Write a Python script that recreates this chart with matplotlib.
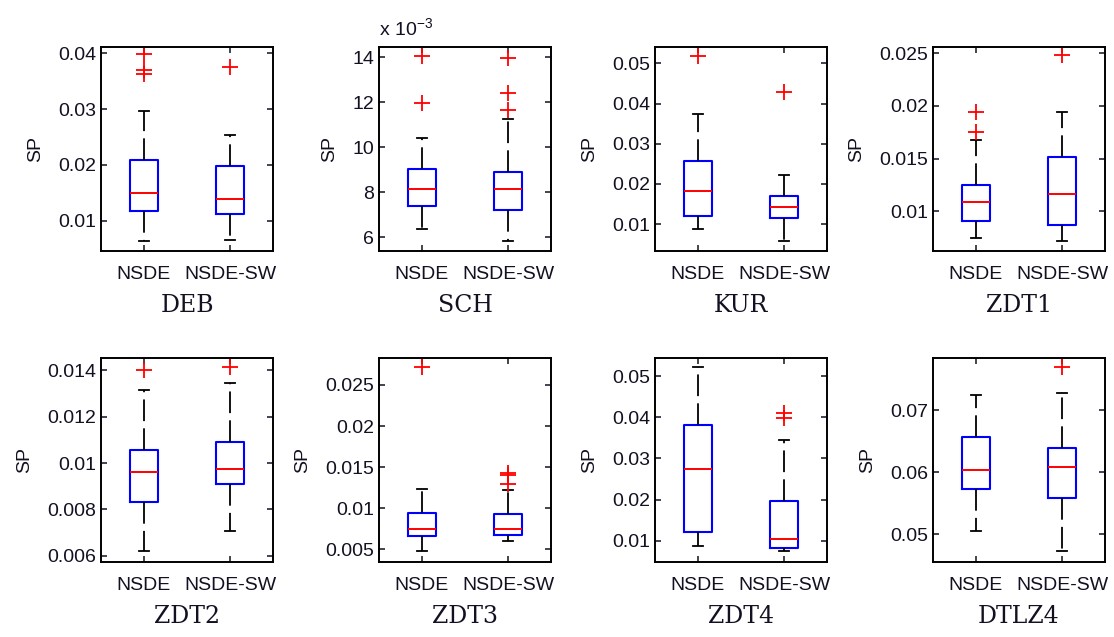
# -*- coding: utf-8 -*-

"""Box plots of the SP metric for NSDE and NSDE-SW on eight test problems."""

import matplotlib
matplotlib.use('Agg')
import matplotlib.pyplot as plt
import matplotlib.ticker as ticker

ALGORITHMS = ['NSDE', 'NSDE-SW']
PROBLEMS = ['DEB', 'SCH', 'KUR', 'ZDT1', 'ZDT2', 'ZDT3', 'ZDT4', 'DTLZ4']

# per problem: [NSDE, NSDE-SW]  (SCH values are in units of 1e-3)
WHISKER_LOW = [[0.0064, 0.0066], [6.36, 5.85], [0.0087, 0.0058], [0.00745, 0.00717],
               [0.00623, 0.00709], [0.00483, 0.0060], [0.00871, 0.00757], [0.0505, 0.0473]]
Q1 = [[0.0118, 0.0112], [7.42, 7.20], [0.0119, 0.0116], [0.00911, 0.00873],
      [0.00831, 0.00911], [0.00662, 0.00678], [0.0120, 0.00823], [0.0573, 0.0559]]
MEDIAN = [[0.0149, 0.0139], [8.17, 8.17], [0.0183, 0.0142], [0.01086, 0.01163],
          [0.00963, 0.00976], [0.00743, 0.00743], [0.0274, 0.0104], [0.0603, 0.0609]]
Q3 = [[0.0209, 0.0198], [9.05, 8.90], [0.0256, 0.0171], [0.0125, 0.0152],
      [0.01058, 0.01091], [0.00938, 0.00934], [0.0380, 0.0197], [0.0657, 0.0639]]
WHISKER_HIGH = [[0.0297, 0.0254], [10.44, 11.28], [0.0374, 0.0222], [0.0168, 0.0194],
                [0.01316, 0.01346], [0.01234, 0.01223], [0.0522, 0.0344], [0.0724, 0.0728]]
OUTLIERS = [
    [[0.0398, 0.0370, 0.0363], [0.0375]],
    [[14.07, 11.99], [13.96, 12.42, 11.65]],
    [[0.0519], [0.0428]],
    [[0.0194, 0.0175], [0.0248]],
    [[0.0140], [0.01415]],
    [[0.02724], [0.01426, 0.01401, 0.01292]],
    [[], [0.0410, 0.0397]],
    [[], [0.0770]],
]
Y_LIMITS = [(0.0046, 0.0411), (5.40, 14.46), (0.0033, 0.0541), (0.00623, 0.0256),
            (0.00574, 0.01452), (0.00346, 0.02828), (0.00483, 0.0544), (0.04555, 0.0784)]
Y_TICKS = [[0.01, 0.02, 0.03, 0.04], [6, 8, 10, 12, 14], [0.01, 0.02, 0.03, 0.04, 0.05],
           [0.01, 0.015, 0.02, 0.025], [0.006, 0.008, 0.01, 0.012, 0.014],
           [0.005, 0.01, 0.015, 0.02, 0.025], [0.01, 0.02, 0.03, 0.04, 0.05], [0.05, 0.06, 0.07]]

FIG_W, FIG_H = 1114, 637
AX_LEFTS = [101, 379, 655, 933]
AX_TOPS = [47, 358]
AX_W, AX_H = 172, 204

plt.rcParams['font.family'] = ['Liberation Sans', 'DejaVu Sans']
plt.rcParams['mathtext.fontset'] = 'custom'
plt.rcParams['mathtext.rm'] = 'Liberation Sans'
plt.rcParams['mathtext.default'] = 'regular'

fig = plt.figure(figsize=(FIG_W / 100, FIG_H / 100), dpi=100)

for i, problem in enumerate(PROBLEMS):
    row, col = divmod(i, 4)
    left = AX_LEFTS[col] / FIG_W
    bottom = 1 - (AX_TOPS[row] + AX_H) / FIG_H
    ax = fig.add_axes([left, bottom, AX_W / FIG_W, AX_H / FIG_H])

    stats = []
    for j, name in enumerate(ALGORITHMS):
        stats.append({
            'label': name,
            'whislo': WHISKER_LOW[i][j], 'q1': Q1[i][j], 'med': MEDIAN[i][j],
            'q3': Q3[i][j], 'whishi': WHISKER_HIGH[i][j], 'fliers': OUTLIERS[i][j],
        })
    ax.bxp(stats, positions=[1, 2], widths=0.32, capwidths=0.11, showfliers=True,
           boxprops=dict(color='#0000ff', linewidth=1.5),
           medianprops=dict(color='#ff0000', linewidth=1.4),
           whiskerprops=dict(color='black', linewidth=1.3, linestyle=(0, (12, 4))),
           capprops=dict(color='black', linewidth=1.3),
           flierprops=dict(marker='+', markeredgecolor='#ff0000', markersize=11,
                           markeredgewidth=1.3))

    ax.set_xlim(0.5, 2.5)
    ax.set_ylim(*Y_LIMITS[i])
    ax.set_yticks(Y_TICKS[i])
    ax.yaxis.set_major_formatter(ticker.FuncFormatter(lambda v, pos: '%g' % v))
    ax.set_xticks([1, 2])
    ax.set_xticklabels(ALGORITHMS)
    ax.tick_params(direction='in', top=True, right=True, length=4, width=1.1,
                   labelsize=14, colors='#111122')
    ax.tick_params(axis='x', pad=11)
    for spine in ax.spines.values():
        spine.set_linewidth(1.4)
    ax.set_ylabel('SP', fontsize=14, labelpad=10, color='#111122')
    ax.set_xlabel(problem, fontsize=17, family=['DejaVu Serif'], labelpad=8,
                  color='#111122')
    if problem == 'SCH':
        ax.text(0.0, 1.04, r'x 10$^{-3}$', transform=ax.transAxes, fontsize=14,
                ha='left', va='bottom', color='#111122')

fig.savefig('out.png', dpi=100)
